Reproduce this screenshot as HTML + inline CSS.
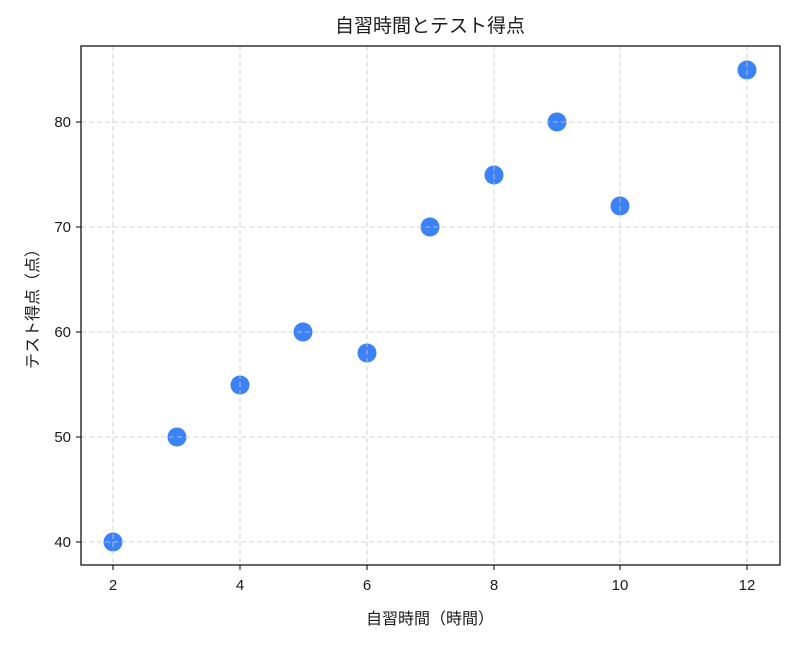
<!DOCTYPE html>
<html><head><meta charset="utf-8"><style>
body{margin:0;background:#fff;}
svg text{font-family:"Liberation Sans","Noto Sans CJK JP",sans-serif;fill:#1a1a1a;}
</style></head><body>
<svg width="793" height="643" viewBox="0 0 793 643">
<rect width="793" height="643" fill="#fff"/>
<g fill="#3b82f6">
<circle cx="113" cy="542" r="9.5"/><circle cx="177" cy="437" r="9.5"/>
<circle cx="240" cy="385" r="9.5"/><circle cx="303" cy="332" r="9.5"/>
<circle cx="367" cy="353" r="9.5"/><circle cx="430" cy="227" r="9.5"/>
<circle cx="494" cy="175" r="9.5"/><circle cx="557" cy="122" r="9.5"/>
<circle cx="620" cy="206" r="9.5"/><circle cx="747" cy="70" r="9.5"/>
</g>
<g stroke="#c8c8c8" stroke-opacity="0.8" stroke-dasharray="5,3" stroke-width="1">
<line x1="113" y1="46" x2="113" y2="565"/><line x1="240" y1="46" x2="240" y2="565"/>
<line x1="367" y1="46" x2="367" y2="565"/><line x1="494" y1="46" x2="494" y2="565"/>
<line x1="620" y1="46" x2="620" y2="565"/><line x1="747" y1="46" x2="747" y2="565"/>
<line x1="81" y1="122" x2="780" y2="122"/><line x1="81" y1="227" x2="780" y2="227"/>
<line x1="81" y1="332" x2="780" y2="332"/><line x1="81" y1="437" x2="780" y2="437"/>
<line x1="81" y1="542" x2="780" y2="542"/>
</g>
<rect x="81" y="46" width="699" height="519" fill="none" stroke="#000" stroke-width="1.2"/>
<g stroke="#000" stroke-width="1">
<line x1="113" y1="565" x2="113" y2="570"/><line x1="240" y1="565" x2="240" y2="570"/>
<line x1="367" y1="565" x2="367" y2="570"/><line x1="494" y1="565" x2="494" y2="570"/>
<line x1="620" y1="565" x2="620" y2="570"/><line x1="747" y1="565" x2="747" y2="570"/>
<line x1="76" y1="122" x2="81" y2="122"/><line x1="76" y1="227" x2="81" y2="227"/>
<line x1="76" y1="332" x2="81" y2="332"/><line x1="76" y1="437" x2="81" y2="437"/>
<line x1="76" y1="542" x2="81" y2="542"/>
</g>
<g font-size="15" text-anchor="middle">
<text x="113" y="590">2</text><text x="240" y="590">4</text><text x="367" y="590">6</text>
<text x="494" y="590">8</text><text x="620" y="590">10</text><text x="747" y="590">12</text>
</g>
<g font-size="15" text-anchor="end">
<text x="71" y="127">80</text><text x="71" y="232">70</text><text x="71" y="337">60</text>
<text x="71" y="442">50</text><text x="71" y="547">40</text>
</g>
<text x="430" y="32" font-size="19" text-anchor="middle">自習時間とテスト得点</text>
<text x="430" y="624" font-size="16" text-anchor="middle">自習時間（時間）</text>
<text transform="translate(38,305) rotate(-90)" font-size="16" text-anchor="middle">テスト得点（点）</text>
</svg>
</body></html>
